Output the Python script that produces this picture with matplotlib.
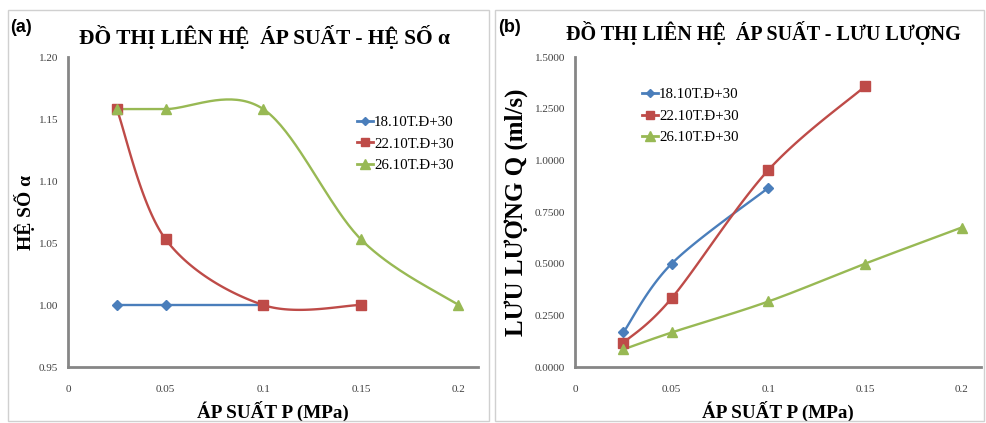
import numpy as np
import matplotlib
matplotlib.use('Agg')
import matplotlib.pyplot as plt
from matplotlib.patches import Rectangle

# du lieu
ap_suat = [0.025, 0.05, 0.1, 0.15, 0.2]
nhan = ['18.10T.Đ+30', '22.10T.Đ+30', '26.10T.Đ+30']
mau = ['#4A7EBB', '#BE4B48', '#98B954']
dau = ['D', 's', '^']
co = [5, 6.5, 7]

he_so_1810 = [1.0, 1.0, 1.0]
he_so_2210 = [1.158, 1.053, 1.0, 1.0]
he_so_2610 = [1.158, 1.158, 1.158, 1.053, 1.0]

luu_luong_1810 = [0.167, 0.500, 0.867]
luu_luong_2210 = [0.117, 0.333, 0.953, 1.358]
luu_luong_2610 = [0.085, 0.167, 0.317, 0.500, 0.675]

x_ticks = [0, 0.05, 0.1, 0.15, 0.2]
x_nhan = ['0', '0.05', '0.1', '0.15', '0.2']
y_ticks_a = [0.95, 1.00, 1.05, 1.10, 1.15, 1.20]
y_ticks_b = [0.0, 0.25, 0.5, 0.75, 1.0, 1.25, 1.5]

plt.rcParams['font.family'] = ['Liberation Serif', 'DejaVu Serif']


def lam_tron(ax, x, y, n=40):
    # duong cong kieu Excel (Bezier, catmull-rom) trong he toa do man hinh
    x = np.asarray(x, float)
    y = np.asarray(y, float)
    x0, x1 = ax.get_xlim()
    y0, y1 = ax.get_ylim()
    bb = ax.get_position()
    sx = bb.width * 987 / (x1 - x0)
    sy = bb.height * 423 / (y1 - y0)
    P = np.column_stack([(x - x0) * sx, (y - y0) * sy])
    if len(P) < 3:
        return x, y
    ra = []
    t = np.linspace(0, 1, n)[:, None]
    for i in range(len(P) - 1):
        p0 = P[max(i - 1, 0)]
        p1 = P[i]
        p2 = P[i + 1]
        p3 = P[min(i + 2, len(P) - 1)]
        c1 = p1 + (p2 - p0) / 6
        c2 = p2 - (p3 - p1) / 6
        b = ((1 - t) ** 3) * p1 + 3 * ((1 - t) ** 2) * t * c1 + 3 * (1 - t) * t ** 2 * c2 + t ** 3 * p2
        ra.append(b)
    Q = np.vstack(ra)
    return Q[:, 0] / sx + x0, Q[:, 1] / sy + y0


def ve(ax, cac_chuoi, yt, fmt, ylim, ylabel, ysize, ypad, legend_pos):
    ax.set_xlim(0, 0.21)
    ax.set_ylim(*ylim)
    for i, yy in enumerate(cac_chuoi):
        xx = ap_suat[:len(yy)]
        sx, sy = lam_tron(ax, xx, yy)
        ax.plot(sx, sy, color=mau[i], lw=1.7, zorder=2)
        ax.plot(xx, yy, linestyle='none', marker=dau[i], ms=co[i], color=mau[i], zorder=3)
        ax.plot([], [], color=mau[i], lw=2, marker=dau[i], ms=co[i] - 0.5, label=nhan[i])
    ax.set_xticks(x_ticks)
    ax.set_xticklabels(x_nhan)
    ax.set_yticks(yt)
    ax.set_yticklabels([fmt % v for v in yt])
    ax.tick_params(length=0, labelsize=8, labelcolor='#404040')
    ax.tick_params(axis='x', pad=13)
    ax.tick_params(axis='y', pad=7)
    for s in ['top', 'right']:
        ax.spines[s].set_visible(False)
    for s in ['left', 'bottom']:
        ax.spines[s].set_color('#868686')
        ax.spines[s].set_linewidth(2)
    ax.set_xlabel('ÁP SUẤT P (MPa)', fontsize=13.8, fontweight='bold', labelpad=5)
    ax.set_ylabel(ylabel, fontsize=ysize, fontweight='bold', labelpad=ypad)
    ax.legend(loc='upper left', bbox_to_anchor=legend_pos, frameon=False, fontsize=10.7,
              handlelength=1.1, handletextpad=0.05, labelspacing=0.55, borderaxespad=0)


fig = plt.figure(figsize=(9.87, 4.23), dpi=100)

# khung vien
fig.patches.append(Rectangle((8 / 987, 2 / 423), 481 / 987, 411 / 423, transform=fig.transFigure,
                             fill=False, edgecolor='#D0D0D0', lw=1))
fig.patches.append(Rectangle((495 / 987, 2 / 423), 489 / 987, 411 / 423, transform=fig.transFigure,
                             fill=False, edgecolor='#D0D0D0', lw=1))

ax1 = fig.add_axes([68 / 987, 56 / 423, 410 / 987, 310 / 423])
ax2 = fig.add_axes([575 / 987, 56 / 423, 406 / 987, 310 / 423])

ve(ax1, [he_so_1810, he_so_2210, he_so_2610], y_ticks_a, '%.2f', (0.95, 1.20),
   'HỆ SỐ α', 14, 3, (0.69, 0.83))
ve(ax2, [luu_luong_1810, luu_luong_2210, luu_luong_2610], y_ticks_b, '%.4f', (0.0, 1.5),
   'LƯU LƯỢNG Q (ml/s)', 18, 5, (0.15, 0.92))

fig.text(265 / 987, 1 - 37 / 423, 'ĐỒ THỊ LIÊN HỆ  ÁP SUẤT - HỆ SỐ α', ha='center', va='center',
         fontsize=15.5, fontweight='bold')
fig.text(763 / 987, 1 - 33 / 423, 'ĐỒ THỊ LIÊN HỆ  ÁP SUẤT - LƯU LƯỢNG', ha='center', va='center',
         fontsize=14.5, fontweight='bold')
fig.text(10 / 987, 1 - 28 / 423, '(a)', ha='left', va='center', fontsize=13, fontweight='bold',
         family='Liberation Sans')
fig.text(498 / 987, 1 - 28 / 423, '(b)', ha='left', va='center', fontsize=13, fontweight='bold',
         family='Liberation Sans')

fig.savefig('out.png', dpi=100)
